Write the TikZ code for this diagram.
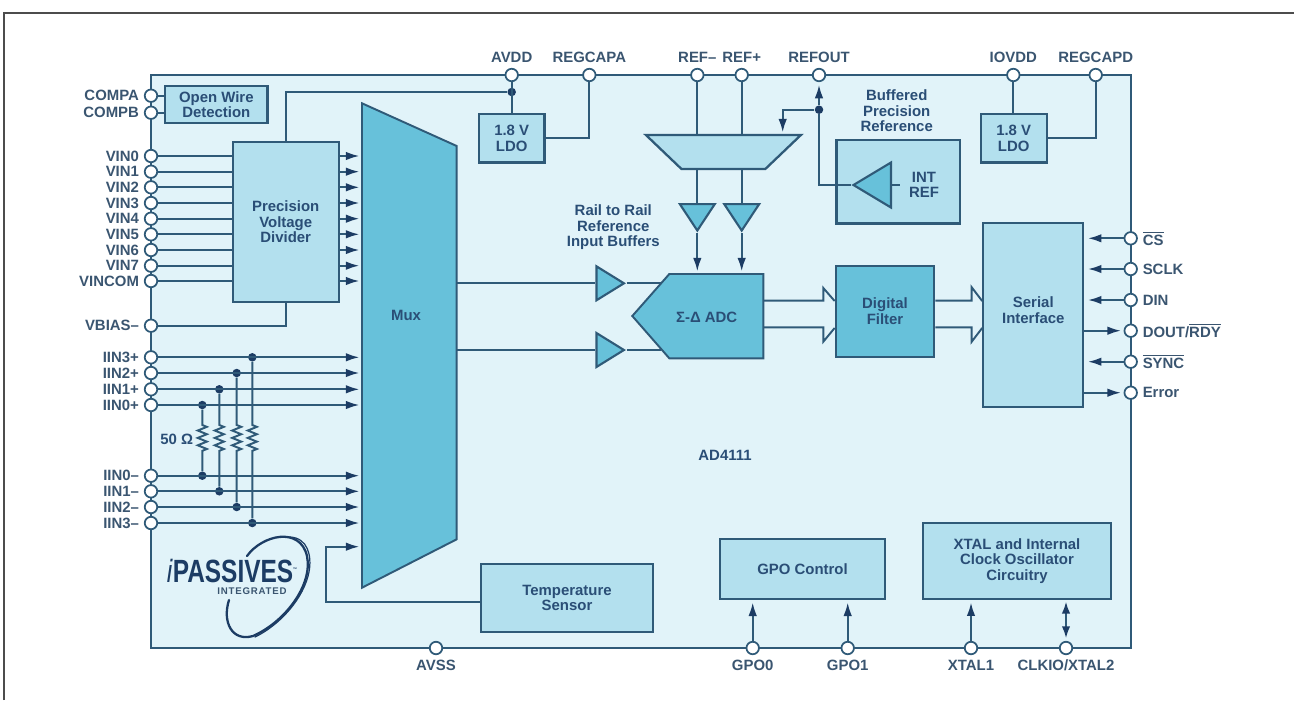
\documentclass[tikz,border=0pt]{standalone}
\usepackage{fontspec}
\setmainfont{Liberation Sans}
\usetikzlibrary{arrows.meta,shapes.geometric,decorations.pathmorphing}
\definecolor{chipbg}{RGB}{225,243,249}
\definecolor{boxlight}{RGB}{179,224,238}
\definecolor{boxdark}{RGB}{103,193,218}
\definecolor{wireblue}{RGB}{47,90,120}
\definecolor{tipblue}{RGB}{28,60,100}
\definecolor{textblue}{RGB}{42,78,118}
\definecolor{padtextblue}{RGB}{58,85,112}

\begin{document}
\begin{tikzpicture}[
  x=0.02cm, y=-0.02cm,
  wire/.style={draw=wireblue, line width=1.1pt},
  line/.style={wire, -{Latex[length=2.7mm,width=1.7mm,color=tipblue]}, shorten >=1.5pt},
  twoway/.style={wire, {Latex[length=2.4mm,width=1.7mm,color=tipblue]}-{Latex[length=2.4mm,width=1.7mm,color=tipblue]}, shorten >=1pt, shorten <=1.5pt},
  bus/.style={wire, line join=miter},
  block/.style={draw=wireblue, line width=1.3pt, fill=boxlight, align=center, inner sep=0pt, text=textblue, font=\fontsize{8.5}{8.8}\selectfont\bfseries},
  darkblock/.style={block, fill=boxdark},
  caption/.style={align=center, inner sep=2pt, text=textblue, font=\fontsize{8.5}{8.8}\selectfont\bfseries},
  pad/.style={circle, draw=wireblue, line width=1pt, fill=white, minimum size=0.25cm, inner sep=0pt},
  padtext/.style={inner sep=2.6pt, text=padtextblue, font=\fontsize{8.5}{8.8}\selectfont\bfseries},
  junction/.style={circle, fill=tipblue, minimum size=0.17cm, inner sep=0pt},
  buffer/.style={isosceles triangle, isosceles triangle stretches, draw=wireblue, line width=1.2pt, fill=boxdark, inner sep=1pt},
  res/.style={decoration={zigzag, amplitude=2.6pt, segment length=4.2pt}},
  logo/.style={draw=tipblue, line width=1.3pt, line cap=round}
]
\useasboundingbox (0,0) rectangle (1294,700);
\draw[gray!60!black, line width=0.9pt] (4,700) -- (4,13) -- (1294,13);

% chip outline
\draw[wire, fill=chipbg] (150.7,75) rectangle (1130.7,648);

% left pads
\node[pad, label={[padtext]left:COMPA}] (compa) at (151,95.7) {};
\node[pad, label={[padtext]left:COMPB}] (compb) at (151,112.7) {};
\node[pad, label={[padtext]left:VIN0}] (vin0) at (151,156) {};
\node[pad, label={[padtext]left:VIN1}] (vin1) at (151,171.7) {};
\node[pad, label={[padtext]left:VIN2}] (vin2) at (151,187.3) {};
\node[pad, label={[padtext]left:VIN3}] (vin3) at (151,203) {};
\node[pad, label={[padtext]left:VIN4}] (vin4) at (151,218.7) {};
\node[pad, label={[padtext]left:VIN5}] (vin5) at (151,234.3) {};
\node[pad, label={[padtext]left:VIN6}] (vin6) at (151,250) {};
\node[pad, label={[padtext]left:VIN7}] (vin7) at (151,265.7) {};
\node[pad, label={[padtext]left:VINCOM}] (vincom) at (151,281) {};
\node[pad, label={[padtext]left:VBIAS–}] (vbias) at (151,325.7) {};
\node[pad, label={[padtext]left:IIN3+}] (iinp3) at (151,357.3) {};
\node[pad, label={[padtext]left:IIN2+}] (iinp2) at (151,373) {};
\node[pad, label={[padtext]left:IIN1+}] (iinp1) at (151,389.3) {};
\node[pad, label={[padtext]left:IIN0+}] (iinp0) at (151,405) {};
\node[pad, label={[padtext]left:IIN0–}] (iinm0) at (151,475.7) {};
\node[pad, label={[padtext]left:IIN1–}] (iinm1) at (151,491.3) {};
\node[pad, label={[padtext]left:IIN2–}] (iinm2) at (151,507) {};
\node[pad, label={[padtext]left:IIN3–}] (iinm3) at (151,523) {};

% top pads
\node[pad, label={[padtext]above:AVDD}] (avdd) at (511.7,75) {};
\node[pad, label={[padtext]above:REGCAPA}] (regcapa) at (589.3,75) {};
\node[pad, label={[padtext]above:REF–}] (refm) at (697.3,75) {};
\node[pad, label={[padtext]above:REF+}] (refp) at (741.7,75) {};
\node[pad, label={[padtext]above:REFOUT}] (refout) at (819,75) {};
\node[pad, label={[padtext]above:IOVDD}] (iovdd) at (1013.3,75) {};
\node[pad, label={[padtext]above:REGCAPD}] (regcapd) at (1095.7,75) {};

% right pads
\node[pad, label={[padtext]right:$\overline{\mbox{CS}}$}] (cs) at (1130.7,238.3) {};
\node[pad, label={[padtext]right:SCLK}] (sclk) at (1130.7,269) {};
\node[pad, label={[padtext]right:DIN}] (din) at (1130.7,300) {};
\node[pad, label={[padtext]right:DOUT/$\overline{\mbox{RDY}}$}] (dout) at (1130.7,330.7) {};
\node[pad, label={[padtext]right:$\overline{\mbox{SYNC}}$}] (sync) at (1130.7,361.7) {};
\node[pad, label={[padtext]right:Error}] (error) at (1130.7,392.7) {};

% bottom pads
\node[pad, label={[padtext]below:AVSS}] (avss) at (436,648) {};
\node[pad, label={[padtext]below:GPO0}] (gpo0) at (752.7,648) {};
\node[pad, label={[padtext]below:GPO1}] (gpo1) at (847.7,648) {};
\node[pad, label={[padtext]below:XTAL1}] (xtal1) at (971,648) {};
\node[pad, label={[padtext]below:CLKIO/XTAL2}] (clkio) at (1066,648) {};

% blocks
\node[block, minimum width=2.05cm, minimum height=0.75cm] (openwire) at (216.3,104.4) {Open Wire\\Detection};
\node[block, minimum width=2.12cm, minimum height=3.2cm] (divider) at (285.7,221.7) {Precision\\Voltage\\Divider};
\node[block, minimum width=1.31cm, minimum height=0.97cm] (ldoa) at (511.7,138.3) {1.8 V\\LDO};
\node[block, minimum width=1.32cm, minimum height=0.97cm] (ldod) at (1013.7,138.3) {1.8 V\\LDO};
\node[block, minimum width=2.47cm, minimum height=1.67cm] (refbox) at (898.3,181.7) {};
\node[darkblock, minimum width=1.97cm, minimum height=1.82cm] (filter) at (885,311.2) {Digital\\Filter};
\node[block, minimum width=2cm, minimum height=3.68cm] (serial) at (1033.3,315.3) {Serial\\Interface\\[-3pt]};
\node[block, minimum width=3.3cm, minimum height=1.19cm] (gpoctl) at (802.5,569) {GPO Control};
\node[block, minimum width=3.75cm, minimum height=1.52cm] (xtal) at (1017,560.7) {XTAL and Internal\\Clock Oscillator\\Circuitry};
\node[block, minimum width=3.44cm, minimum height=1.36cm] (temp) at (567,598) {Temperature\\Sensor};
\node[block, trapezium, inner sep=1pt, trapezium stretches=true, trapezium left angle=67, trapezium right angle=67, shape border rotate=180, minimum width=3.1cm, minimum height=0.68cm] (refmux) at (723.4,152) {};

% mux and adc outlines
\draw[wire, fill=boxdark] (362,103.3) -- (456.7,146) -- (456.7,539.3) -- (362,587.7) -- cycle;
\draw[wire, fill=boxdark] (669.3,274) -- (763.3,274) -- (763.3,358.3) -- (669.3,358.3) -- (632.3,316) -- cycle;
\node[caption] (mux) at (406,315) {Mux};
\node[caption] (adc) at (706.7,317) {Σ-Δ ADC};
\coordinate (muxl) at (362,315);
\coordinate (muxr) at (456.7,315);
\coordinate (muxt) at (362,546.7);
\coordinate (adctop) at (720,274);

% buffers
\node[buffer, anchor=apex, minimum height=0.55cm, minimum width=0.68cm] (inbufa) at (626.7,283.3) {};
\node[buffer, anchor=apex, minimum height=0.55cm, minimum width=0.68cm] (inbufb) at (626.7,350) {};
\node[buffer, anchor=apex, shape border rotate=270, minimum height=0.53cm, minimum width=0.7cm] (refbufa) at (697.3,233.3) {};
\node[buffer, anchor=apex, shape border rotate=270, minimum height=0.53cm, minimum width=0.7cm] (refbufb) at (741.7,233.3) {};
\node[buffer, anchor=apex, shape border rotate=180, minimum height=0.75cm, minimum width=0.9cm] (intbuf) at (850.7,185) {};

% free text
\node[caption] (railtext) at (613.3,227.3) {Rail to Rail\\Reference\\Input Buffers};
\node[caption] (preftext) at (896.7,110.7) {Buffered\\Precision\\Reference};
\node[caption, inner sep=5pt] (intref) at (924,185) {INT\\REF};
\node[caption] (partname) at (725,455) {AD4111};
\node[caption] (ohms) at (176.7,439) {50 Ω};

% junctions
\node[junction] (avddot) at (511.7,92) {};
\node[junction] (refdot) at (819,109.7) {};
\node[junction] (dotp0) at (202.3,405) {};
\node[junction] (dotp1) at (219.3,389.3) {};
\node[junction] (dotp2) at (236.7,373) {};
\node[junction] (dotp3) at (252.3,357.3) {};
\node[junction] (dotm0) at (202.3,475.7) {};
\node[junction] (dotm1) at (219.3,491.3) {};
\node[junction] (dotm2) at (236.7,507) {};
\node[junction] (dotm3) at (252.3,523) {};
\coordinate (resa) at (202.3,425);
\coordinate (resb) at (202.3,453);

% open wire and divider inputs
\draw[wire] (compa) -- (openwire.west |- compa);
\draw[wire] (compb) -- (openwire.west |- compb);
\draw[wire] (vin0) -- (divider.west |- vin0);
\draw[wire] (vin1) -- (divider.west |- vin1);
\draw[wire] (vin2) -- (divider.west |- vin2);
\draw[wire] (vin3) -- (divider.west |- vin3);
\draw[wire] (vin4) -- (divider.west |- vin4);
\draw[wire] (vin5) -- (divider.west |- vin5);
\draw[wire] (vin6) -- (divider.west |- vin6);
\draw[wire] (vin7) -- (divider.west |- vin7);
\draw[wire] (vincom) -- (divider.west |- vincom);
\draw[wire] (vbias) -| (divider.south);
\draw[wire] (divider.north) |- (avddot);

% divider to mux
\draw[line] (divider.east |- vin0) -- (muxl |- vin0);
\draw[line] (divider.east |- vin1) -- (muxl |- vin1);
\draw[line] (divider.east |- vin2) -- (muxl |- vin2);
\draw[line] (divider.east |- vin3) -- (muxl |- vin3);
\draw[line] (divider.east |- vin4) -- (muxl |- vin4);
\draw[line] (divider.east |- vin5) -- (muxl |- vin5);
\draw[line] (divider.east |- vin6) -- (muxl |- vin6);
\draw[line] (divider.east |- vin7) -- (muxl |- vin7);
\draw[line] (divider.east |- vincom) -- (muxl |- vincom);

% current inputs
\draw[line] (iinp3) -- (muxl |- iinp3);
\draw[line] (iinp2) -- (muxl |- iinp2);
\draw[line] (iinp1) -- (muxl |- iinp1);
\draw[line] (iinp0) -- (muxl |- iinp0);
\draw[line] (iinm0) -- (muxl |- iinm0);
\draw[line] (iinm1) -- (muxl |- iinm1);
\draw[line] (iinm2) -- (muxl |- iinm2);
\draw[line] (iinm3) -- (muxl |- iinm3);
\draw[wire, res] (dotp0) -- (dotp0 |- resa) decorate {-- (dotp0 |- resb)} -- (dotm0);
\draw[wire, res] (dotp1) -- (dotp1 |- resa) decorate {-- (dotp1 |- resb)} -- (dotm1);
\draw[wire, res] (dotp2) -- (dotp2 |- resa) decorate {-- (dotp2 |- resb)} -- (dotm2);
\draw[wire, res] (dotp3) -- (dotp3 |- resa) decorate {-- (dotp3 |- resb)} -- (dotm3);

% temperature sensor
\coordinate (tempbend) at (326,602.3);
\draw[line] (temp.west |- tempbend) -- (tempbend) |- (muxt);

% ldo and reference
\draw[wire] (avdd) -- (ldoa.north);
\draw[wire] (ldoa.east) -| (regcapa);
\draw[wire] (iovdd) -- (iovdd |- ldod.north);
\draw[wire] (ldod.east) -| (regcapd);
\draw[wire] (refm) -- (refm |- refmux.north);
\draw[wire] (refp) -- (refp |- refmux.north);
\draw[wire] (refm |- refmux.south) -- (refbufa);
\draw[wire] (refp |- refmux.south) -- (refbufb);
\draw[line] (refbufa.apex) -- (refbufa.apex |- adctop);
\draw[line] (refbufb.apex) -- (refbufb.apex |- adctop);
\draw[line] (refdot) -- (refout);
\coordinate (refin) at (782.7,135);
\draw[line] (refdot) -| (refin);
\draw[wire] (refdot) |- (intbuf.apex);
\draw[wire] (intbuf) -- (intref);

% analog path
\coordinate (adcupper) at (661,283.3);
\coordinate (adclower) at (661,350);
\draw[wire] (muxr |- inbufa) -- (inbufa);
\draw[wire] (muxr |- inbufb) -- (inbufb);
\draw[wire] (inbufa.apex) -- (adcupper);
\draw[wire] (inbufb.apex) -- (adclower);

% digital buses
\coordinate (busup) at (763.3,300.7);
\coordinate (buslow) at (763.3,327.3);
\draw[bus] (busup) -- (823.3,300.7) -- (823.3,288) -- (filter.west |- 0,301);
\draw[bus] (buslow) -- (823.3,327.3) -- (823.3,341.7) -- (filter.west |- 0,328);
\draw[bus] (filter.east |- busup) -- (971.7,300.7) -- (971.7,287.3) -- (serial.west |- 0,301);
\draw[bus] (filter.east |- buslow) -- (971.7,327.3) -- (971.7,341.7) -- (serial.west |- 0,328);

% serial port
\draw[line, shorten >=2pt] (cs) -- (serial.east |- cs);
\draw[line, shorten >=2pt] (sclk) -- (serial.east |- sclk);
\draw[line, shorten >=2pt] (din) -- (serial.east |- din);
\draw[line] (serial.east |- dout) -- (dout);
\draw[line, shorten >=2pt] (sync) -- (serial.east |- sync);
\draw[line] (serial.east |- error) -- (error);

% bottom pins
\draw[line] (gpo0) -- (gpoctl.south -| gpo0);
\draw[line] (gpo1) -- (gpoctl.south -| gpo1);
\draw[line] (xtal1) -- (xtal.south -| xtal1);
\draw[twoway] (clkio) -- (xtal.south -| clkio);

% logo
\node[inner sep=0pt, text=tipblue, transform shape, xscale=0.76, font=\fontsize{18.3}{18.3}\selectfont\bfseries] (logomain) at (232,571) {\textit{\mdseries i}PASSIVES\raisebox{6pt}{\fontsize{3}{3}\selectfont ™}};
\node[inner sep=0pt, text=padtextblue, font=\fontsize{5.5}{5.5}\selectfont\bfseries\addfontfeature{LetterSpace=8}] (logosub) at (252,591) {INTEGRATED};
\draw[logo] (247,556) .. controls (262,535) and (300,526) .. (307,556) .. controls (313,585) and (285,622) .. (253,636) .. controls (232,642) and (222,622) .. (229,600);
\draw[logo, line width=0.7pt] (290,537) .. controls (308,538) and (312,556) .. (309,572) .. controls (304,598) and (280,625) .. (255,637);

\end{tikzpicture}
\end{document}
